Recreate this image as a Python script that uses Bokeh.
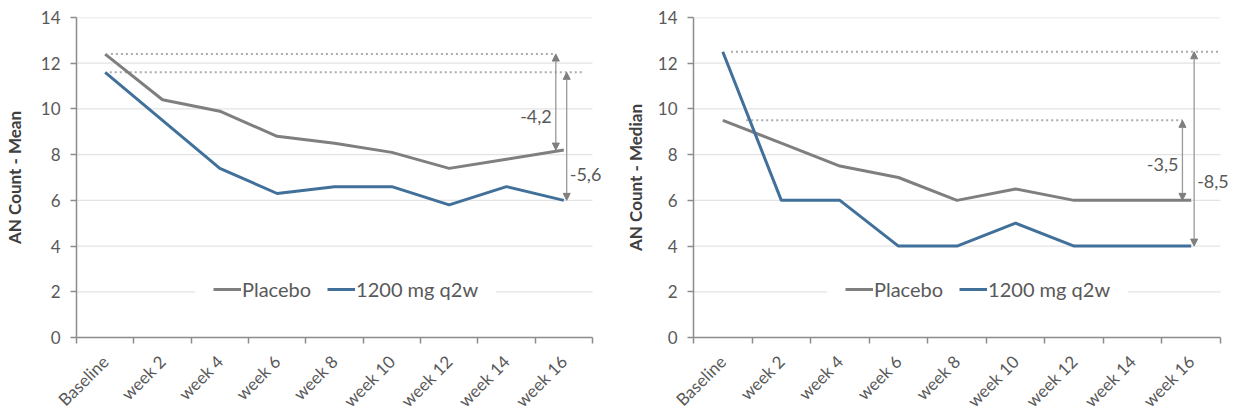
from bokeh.plotting import figure
from bokeh.layouts import row
from bokeh.models import (Arrow, NormalHead, Label, Legend, LegendItem,
                          FixedTicker, Range1d)
from bokeh.embed import file_html
from bokeh.resources import INLINE

# ---------------- data ----------------
categories = ["Baseline", "week 2", "week 4", "week 6", "week 8",
              "week 10", "week 12", "week 14", "week 16"]
series_names = ["Placebo", "1200 mg q2w"]
mean_placebo = [12.4, 10.4, 9.9, 8.8, 8.5, 8.1, 7.4, 7.8, 8.2]
mean_drug = [11.6, 9.5, 7.4, 6.3, 6.6, 6.6, 5.8, 6.6, 6.0]
median_placebo = [9.5, 8.5, 7.5, 7.0, 6.0, 6.5, 6.0, 6.0, 6.0]
median_drug = [12.5, 6.0, 6.0, 4.0, 4.0, 5.0, 4.0, 4.0, 4.0]
y_ticks = [0, 2, 4, 6, 8, 10, 12, 14]
y_labels = ["AN Count - Mean", "AN Count - Median"]

# ---------------- style ----------------
FONT = "Lato"
GREY = "#7f7f7f"
BLUE = "#41709a"
AXIS = "#8c8c8c"
TXT = "#595959"


def fmt(v):
    return f"{v:.1f}".replace(".", ",")


def panel(ylabel, placebo, drug, cat_w, extra_px, top, right_border,
          lab_standoff, legend_x, dotted, arrows):
    n = len(categories)
    xs = list(range(n))
    extra = extra_px / cat_w
    frame_w = int(round(cat_w * n + extra_px))
    p = figure(output_backend="svg", toolbar_location=None,
               frame_width=frame_w, frame_height=320,
               min_border_left=70, min_border_right=right_border,
               min_border_top=top, min_border_bottom=72,
               x_range=Range1d(-0.5, n - 0.5 + extra),
               y_range=Range1d(0, max(y_ticks)))
    p.outline_line_color = None
    p.background_fill_color = "white"

    # axes
    xt = FixedTicker(ticks=xs, minor_ticks=[i - 0.5 for i in range(n + 1)])
    p.xaxis.ticker = xt
    p.xaxis.bounds = (-0.5, n - 0.5)
    p.xaxis.major_label_overrides = {i: c for i, c in enumerate(categories)}
    p.xaxis.major_label_orientation = 0.785398
    p.xaxis.major_tick_out = 0
    p.xaxis.major_tick_in = 0
    p.xaxis.minor_tick_out = 6
    p.xaxis.minor_tick_in = 0
    p.xaxis.minor_tick_line_color = AXIS
    p.xaxis.minor_tick_line_width = 1.5
    p.xaxis.major_label_standoff = 15
    p.xaxis.major_label_text_font_size = "17px"

    p.yaxis.ticker = FixedTicker(ticks=y_ticks, minor_ticks=[])
    p.yaxis.major_tick_out = 6
    p.yaxis.major_tick_in = 0
    p.yaxis.major_tick_line_color = AXIS
    p.yaxis.major_tick_line_width = 1.5
    p.yaxis.major_label_standoff = 10
    p.yaxis.major_label_text_font_size = "17px"
    p.yaxis.axis_label = ylabel
    p.yaxis.axis_label_standoff = lab_standoff
    p.yaxis.axis_label_text_font = FONT
    p.yaxis.axis_label_text_font_size = "17px"
    p.yaxis.axis_label_text_font_style = "bold"
    p.yaxis.axis_label_text_color = "#404040"

    for ax in (p.xaxis, p.yaxis):
        ax.axis_line_color = AXIS
        ax.axis_line_width = 1.5
        ax.major_label_text_font = FONT
        ax.major_label_text_color = TXT

    # horizontal gridlines limited to the category span
    p.xgrid.visible = False
    p.ygrid.visible = False
    gy = [t for t in y_ticks if t > 0]
    p.segment(x0=[-0.5] * len(gy), x1=[n - 0.5] * len(gy), y0=gy, y1=gy,
              line_color="#e3e3e3", line_width=1.3, level="underlay")

    # dotted reference lines at baseline levels
    for level, x0, x1 in dotted:
        p.line([x0, x1], [level, level], line_color="#ababab",
               line_width=2, line_dash="2 3")

    r1 = p.line(xs, placebo, line_color=GREY, line_width=3)
    r2 = p.line(xs, drug, line_color=BLUE, line_width=3)

    # change arrows + labels
    for x, y0, y1, frac, side in arrows:
        p.add_layout(Arrow(
            start=NormalHead(size=7, fill_color=GREY, line_color=GREY),
            end=NormalHead(size=7, fill_color=GREY, line_color=GREY),
            x_start=x, y_start=y0, x_end=x, y_end=y1,
            line_color="#999999", line_width=1.3))
        p.add_layout(Label(
            x=x, y=y0 + (y1 - y0) * frac, text=fmt(y1 - y0),
            text_align="right" if side == "left" else "left",
            x_offset=-4 if side == "left" else 3,
            text_baseline="middle", text_font=FONT,
            text_font_size="18px", text_color=TXT))

    legend = Legend(items=[LegendItem(label=series_names[0], renderers=[r1]),
                           LegendItem(label=series_names[1], renderers=[r2])],
                    orientation="horizontal", location=(legend_x, 18),
                    glyph_width=28, glyph_height=20, label_standoff=1,
                    spacing=16, padding=18, margin=0,
                    label_text_font=FONT, label_text_font_size="20px",
                    label_text_color=TXT, background_fill_color="white",
                    background_fill_alpha=1.0, border_line_alpha=0)
    p.add_layout(legend)
    return p


last = len(categories) - 1

p1 = panel(y_labels[0], mean_placebo, mean_drug, cat_w=57.33, extra_px=16,
           top=17, right_border=13, lab_standoff=13, legend_x=119,
           dotted=[(mean_placebo[0], 0.1, last - 0.14),
                   (mean_drug[0], 0.08, last + 0.35)],
           arrows=[(last - 0.14, mean_placebo[0], mean_placebo[-1], 0.65, "left"),
                   (last + 0.05, mean_drug[0], mean_drug[-1], 0.8, "right")])

p2 = panel(y_labels[1], median_placebo, median_drug, cat_w=58.56, extra_px=14,
           top=14, right_border=0, lab_standoff=9, legend_x=134,
           dotted=[(median_drug[0], 0.14, last + 0.5),
                   (median_placebo[0], 0.4, last - 0.15)],
           arrows=[(last - 0.15, median_placebo[0], median_placebo[-1], 0.55, "left"),
                   (last + 0.05, median_drug[0], median_drug[-1], 0.67, "right")])

layout = row(p1, p2)
open("out.html", "w").write(file_html(layout, INLINE))
